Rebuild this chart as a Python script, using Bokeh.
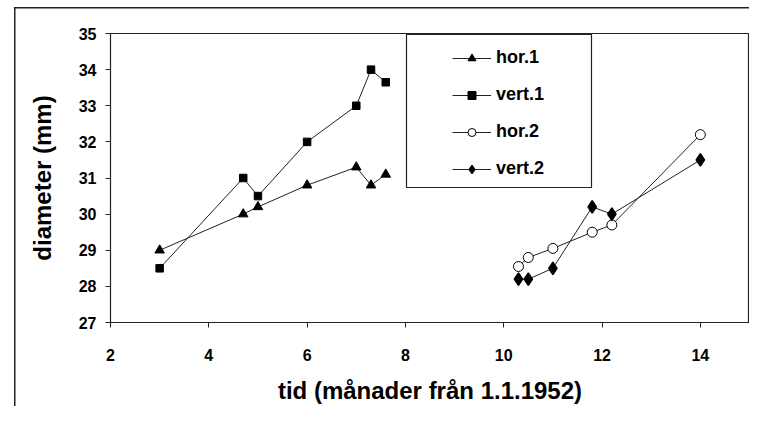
from bokeh.plotting import figure
from bokeh.models import Legend, LegendItem, BoxAnnotation, Range1d, FixedTicker
from bokeh.embed import file_html
from bokeh.resources import INLINE

# data
hor1_x = [3.0, 4.7, 5.0, 6.0, 7.0, 7.3, 7.6]
hor1_y = [29.0, 30.0, 30.2, 30.8, 31.3, 30.8, 31.1]
vert1_x = [3.0, 4.7, 5.0, 6.0, 7.0, 7.3, 7.6]
vert1_y = [28.5, 31.0, 30.5, 32.0, 33.0, 34.0, 33.65]
hor2_x = [10.3, 10.5, 11.0, 11.8, 12.2, 14.0]
hor2_y = [28.55, 28.8, 29.05, 29.5, 29.7, 32.2]
vert2_x = [10.3, 10.5, 11.0, 11.8, 12.2, 14.0]
vert2_y = [28.2, 28.2, 28.5, 30.2, 30.0, 31.5]
x_ticks = [2, 4, 6, 8, 10, 12, 14]
y_ticks = [27, 28, 29, 30, 31, 32, 33, 34, 35]

FONT = "Liberation Sans"

p = figure(width=749, height=406, output_backend="svg", toolbar_location=None,
           x_range=Range1d(2, 15), y_range=Range1d(27, 35),
           min_border_left=110, min_border_right=0, min_border_top=33, min_border_bottom=83)
p.grid.visible = False
p.outline_line_color = "#222222"
p.outline_line_width = 1.2
p.background_fill_color = "white"
p.border_fill_alpha = 0
p.styles = {
    "background-color": "white",
    "background-image": "linear-gradient(#222,#222), linear-gradient(#222,#222)",
    "background-size": "1.5px 100%, 100% 1.5px",
    "background-position": "14px 7px, 14px 7px",
    "background-repeat": "no-repeat",
}

p.axis.axis_line_color = "#222222"
p.axis.major_tick_line_color = "#222222"
p.axis.minor_tick_line_color = None
p.axis.major_tick_in = 0
p.axis.major_tick_out = 5
p.axis.major_label_text_font = FONT
p.axis.major_label_text_font_style = "bold"
p.axis.major_label_text_font_size = "16px"
p.axis.major_label_text_color = "black"
p.axis.axis_label_text_font = FONT
p.axis.axis_label_text_font_style = "bold"
p.axis.axis_label_text_font_size = "24px"
p.axis.axis_label_text_color = "black"

p.xaxis.ticker = FixedTicker(ticks=x_ticks)
p.yaxis.ticker = FixedTicker(ticks=y_ticks)
p.xaxis.axis_label = "tid (månader från 1.1.1952)"
p.yaxis.axis_label = "diameter (mm)"
p.xaxis.major_label_standoff = 21
p.xaxis.axis_label_standoff = 13
p.yaxis.major_label_standoff = 9
p.yaxis.axis_label_standoff = 20

LC = "#222222"
l1 = p.line(hor1_x, hor1_y, line_color=LC, line_width=1)
m1 = p.scatter(hor1_x, hor1_y, marker="triangle", size=9.5, fill_color="black", line_color="black")
l2 = p.line(vert1_x, vert1_y, line_color=LC, line_width=1)
m2 = p.scatter(vert1_x, vert1_y, marker="square", size=7.5, fill_color="black", line_color="black")
l3 = p.line(hor2_x, hor2_y, line_color=LC, line_width=1)
m3 = p.scatter(hor2_x, hor2_y, marker="circle", size=10, fill_color="white", line_color="black", line_width=1)
l4 = p.line(vert2_x, vert2_y, line_color=LC, line_width=1)
m4 = p.scatter(vert2_x, vert2_y, marker="diamond", size=12.5, fill_color="black", line_color="black",
               line_width=1.5)

legend = Legend(items=[
    LegendItem(label="hor.1", renderers=[l1, m1]),
    LegendItem(label="vert.1", renderers=[l2, m2]),
    LegendItem(label="hor.2", renderers=[l3, m3]),
    LegendItem(label="vert.2", renderers=[l4, m4]),
], location=(331, 132), orientation="vertical",
   glyph_width=39, glyph_height=20, label_height=20, spacing=16, padding=11,
   label_standoff=5, label_text_font=FONT, label_text_font_style="bold",
   label_text_font_size="18px", label_text_color="black",
   border_line_alpha=0, background_fill_alpha=0)
p.add_layout(legend, "center")

# legend frame (canvas units)
p.add_layout(BoxAnnotation(left=406, right=591, top=34, bottom=187,
                           left_units="canvas", right_units="canvas",
                           top_units="canvas", bottom_units="canvas",
                           fill_alpha=0, line_color="#222222", line_alpha=1, line_width=1.2))

open("out.html", "w").write(file_html(p, INLINE))
